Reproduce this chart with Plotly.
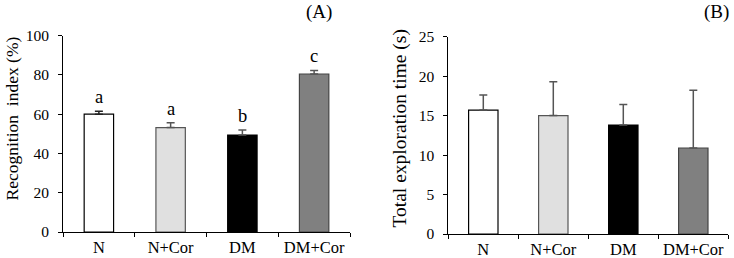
import plotly.graph_objects as go

categories = ["N", "N+Cor", "DM", "DM+Cor"]
recog_mean = [60.0, 53.2, 49.4, 80.5]
recog_err = [1.5, 2.4, 2.6, 1.8]
recog_letters = ["a", "a", "b", "c"]
explore_mean = [15.7, 15.0, 13.8, 10.9]
explore_err = [1.9, 4.3, 2.6, 7.3]

fills = ["#ffffff", "#e0e0e0", "#000000", "#808080"]
outlines = ["#000000", "#555555", "#000000", "#444444"]
errcols = ["#222222", "#555555", "#555555", "#555555"]

FONT = "Liberation Serif, Times New Roman, serif"
fig = go.Figure()

for i, c in enumerate(categories):
    fig.add_trace(go.Bar(
        x=[c], y=[recog_mean[i]], xaxis="x", yaxis="y", width=0.41,
        marker=dict(color=fills[i], line=dict(color=outlines[i], width=1.2)),
        error_y=dict(type="data", array=[recog_err[i]], symmetric=False, arrayminus=[0],
                     color=errcols[i], thickness=1.5, width=4),
        showlegend=False))
    fig.add_trace(go.Bar(
        x=[c], y=[explore_mean[i]], xaxis="x2", yaxis="y2", width=0.42,
        marker=dict(color=fills[i], line=dict(color=outlines[i], width=1.2)),
        error_y=dict(type="data", array=[explore_err[i]], symmetric=False, arrayminus=[0],
                     color="#555555", thickness=1.5, width=4),
        showlegend=False))

ann = []
for i, c in enumerate(categories):
    ann.append(dict(x=c, y=recog_mean[i] + recog_err[i], xref="x", yref="y",
                    text=recog_letters[i], showarrow=False, yanchor="middle", yshift=14,
                    font=dict(family=FONT, size=18.5, color="#000")))

ann += [
    dict(x=12 / 734, y=0.5407, xref="paper", yref="paper", text="Recognition  index (%)",
         textangle=-90, showarrow=False, xanchor="center", yanchor="middle",
         font=dict(family=FONT, size=17.5, color="#000")),
    dict(x=400 / 734, y=0.5019, xref="paper", yref="paper", text="Total exploration time (s)",
         textangle=-90, showarrow=False, xanchor="center", yanchor="middle",
         font=dict(family=FONT, size=19.5, color="#000")),
    dict(x=334 / 734, y=(258 - 12) / 258, xref="paper", yref="paper", text="(A)",
         showarrow=False, xanchor="right", yanchor="middle",
         font=dict(family=FONT, size=19, color="#000")),
    dict(x=731 / 734, y=(258 - 12) / 258, xref="paper", yref="paper", text="(B)",
         showarrow=False, xanchor="right", yanchor="middle",
         font=dict(family=FONT, size=19, color="#000")),
]

xcommon = dict(type="category", tickson="boundaries", ticks="outside", ticklen=4,
               tickcolor="#000", showline=True, linecolor="#000", linewidth=1,
               showgrid=False, zeroline=False, tickangle=0,
               tickfont=dict(family=FONT, size=16.5, color="#000"))
ycommon = dict(ticks="outside", ticklen=4, tickcolor="#000", showline=True,
               linecolor="#000", linewidth=1, showgrid=False, zeroline=False,
               tickfont=dict(family=FONT, size=15.5, color="#000"), ticklabelstandoff=6)

fig.update_layout(
    width=734, height=258, margin=dict(l=0, r=0, t=0, b=0, autoexpand=False),
    font=dict(family=FONT, color="#000"),
    paper_bgcolor="#ffffff", plot_bgcolor="#ffffff", barmode="overlay",
    xaxis=dict(domain=[63 / 734, 350 / 734], anchor="y", range=[-0.5, 3.5], **xcommon),
    yaxis=dict(domain=[(258 - 232) / 258, (258 - 35.7) / 258], anchor="x",
               range=[0, 100], tickvals=[0, 20, 40, 60, 80, 100], **ycommon),
    xaxis2=dict(domain=[448.3 / 734, 728.3 / 734], anchor="y2", range=[-0.5, 3.5], **xcommon),
    yaxis2=dict(domain=[(258 - 234) / 258, (258 - 36.7) / 258], anchor="x2",
                range=[0, 25], tickvals=[0, 5, 10, 15, 20, 25], **ycommon),
    annotations=ann,
)

fig.write_html(
    "out.html",
    config={"displayModeBar": False},
    post_script="document.body.style.margin='0';document.body.style.overflow='hidden';",
)
